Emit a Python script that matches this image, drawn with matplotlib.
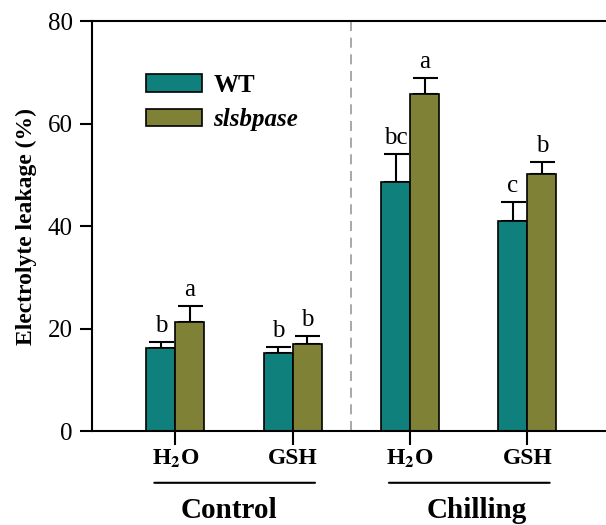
import matplotlib.pyplot as plt
import numpy as np

plt.rcParams['font.family'] = ['Liberation Serif', 'DejaVu Serif']
plt.rcParams['mathtext.fontset'] = 'stix'

treatments = ['H$_\\mathbf{2}$O', 'GSH', 'H$_\\mathbf{2}$O', 'GSH']
groups = ['Control', 'Chilling']
wt = [16.2, 15.3, 48.5, 41.0]
wt_err = [1.2, 1.0, 5.5, 3.7]
mut = [21.3, 17.0, 65.8, 50.1]
mut_err = [3.0, 1.5, 3.1, 2.4]
wt_letters = ['b', 'b', 'bc', 'c']
mut_letters = ['a', 'b', 'a', 'b']

teal = '#0f807c'
olive = '#7f8137'

fig = plt.figure(figsize=(6.06, 5.25), dpi=100)
ax = fig.add_axes([0.152, 0.179, 0.848, 0.781])

x = np.arange(len(wt))
w = 0.247
ax.bar(x - w / 2, wt, w, color=teal, edgecolor='black', linewidth=1.2, label='WT', zorder=2)
ax.bar(x + w / 2, mut, w, color=olive, edgecolor='black', linewidth=1.2, label='slsbpase', zorder=2)
ax.errorbar(x - w / 2, wt, yerr=[np.zeros(4), wt_err], fmt='none', ecolor='black',
            elinewidth=1.5, capsize=9, capthick=1.5, zorder=1)
ax.errorbar(x + w / 2, mut, yerr=[np.zeros(4), mut_err], fmt='none', ecolor='black',
            elinewidth=1.5, capsize=9, capthick=1.5, zorder=1)

for i in range(4):
    ax.text(x[i] - w / 2, wt[i] + wt_err[i] + 1.0, wt_letters[i], ha='center', va='bottom', fontsize=18)
    ax.text(x[i] + w / 2, mut[i] + mut_err[i] + 1.0, mut_letters[i], ha='center', va='bottom', fontsize=18)

ax.axvline(1.5, color='#999999', linestyle=(0, (6, 4)), linewidth=1.2)

ax.set_xlim(-0.71, 3.67)
ax.set_ylim(0, 80)
ax.set_yticks([0, 20, 40, 60, 80])
ax.tick_params(axis='y', labelsize=18, length=9, width=1.5, direction='out', pad=5)
ax.set_xticks(x)
ax.set_xticklabels(treatments, fontsize=17, fontweight='bold')
ax.tick_params(axis='x', length=10, width=1.5, direction='out', pad=2)
ax.spines['right'].set_visible(False)
for s in ['left', 'top', 'bottom']:
    ax.spines[s].set_linewidth(1.5)

ax.set_ylabel('Electrolyte leakage (%)', fontsize=17, fontweight='bold', labelpad=8)

# group underlines and labels
label_x = [0.46, 2.57]
for gi, g in enumerate(groups):
    x0, x1 = 2 * gi - 0.18, 2 * gi + 1.19
    ax.annotate('', xy=(x0, -10.1), xytext=(x1, -10.1), xycoords='data',
                arrowprops=dict(arrowstyle='-', color='black', linewidth=1.5,
                                shrinkA=0, shrinkB=0),
                annotation_clip=False)
    ax.text(label_x[gi], -17.0, g, ha='center', va='baseline', fontsize=21,
            fontweight='bold', clip_on=False)

leg = ax.legend(loc='upper left', bbox_to_anchor=(0.105, 0.871), frameon=False,
                fontsize=18, handlelength=2.24, handleheight=0.7, handletextpad=0.45,
                labelspacing=0.45, borderaxespad=0, borderpad=0)
leg.get_texts()[0].set_fontweight('bold')
leg.get_texts()[1].set_fontstyle('italic')
leg.get_texts()[1].set_fontweight('bold')

fig.savefig('out.png', dpi=100)
